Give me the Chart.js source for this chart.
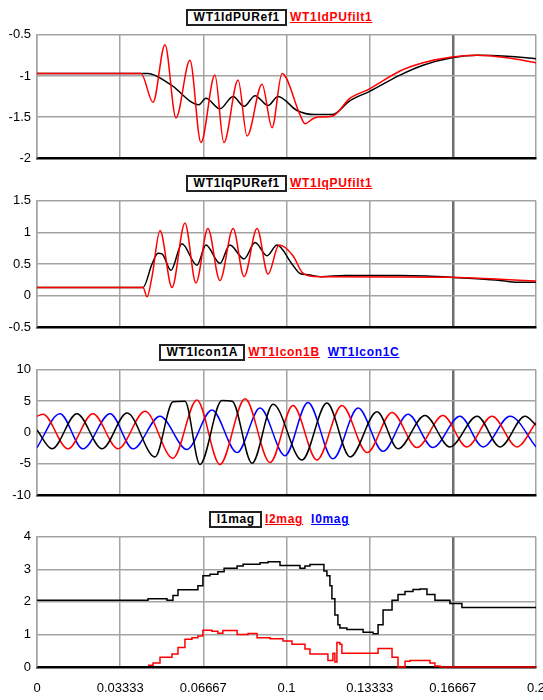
<!DOCTYPE html>
<html>
<head>
<meta charset="utf-8">
<script src="https://cdn.jsdelivr.net/npm/chart.js@4.4.0/dist/chart.umd.min.js"></script>
<style>
  html, body { margin: 0; padding: 0; background: #fff; }
  body { width: 543px; height: 700px; position: relative; overflow: hidden; }
  .panel { position: absolute; left: 0; width: 543px; }
  .legend {
    position: absolute; left: 0; width: 558px; height: 17px;
    display: flex; justify-content: center; align-items: center;
    font: bold 12px "Liberation Sans", Arial, sans-serif;
    letter-spacing: 0.7px; white-space: nowrap; line-height: 13px;
  }
  .legend .boxed { border: 2px solid #222; padding: 0 5px 0 6px; color: #000; margin-right: 3px; }
  .legend .red { color: #f00; text-decoration: underline; }
  .legend .blue { color: #00f; text-decoration: underline; margin-left: 8px; }
</style>
</head>
<body>

<div class="legend" style="top:9px"><span class="boxed">WT1IdPURef1</span><span class="red">WT1IdPUfilt1</span></div>
<div class="panel" style="top:21px;height:151px"><canvas id="c1"></canvas></div>

<div class="legend" style="top:175px"><span class="boxed">WT1IqPURef1</span><span class="red">WT1IqPUfilt1</span></div>
<div class="panel" style="top:187px;height:154px"><canvas id="c2"></canvas></div>

<div class="legend" style="top:344px"><span class="boxed">WT1Icon1A</span><span class="red">WT1Icon1B</span><span class="blue">WT1Icon1C</span></div>
<div class="panel" style="top:356px;height:153px"><canvas id="c3"></canvas></div>

<div class="legend" style="top:511px"><span class="boxed">I1mag</span><span class="red">I2mag</span><span class="blue">I0mag</span></div>
<div class="panel" style="top:523px;height:177px"><canvas id="c4"></canvas></div>

<script>
// time axis (s)
const xTickValues = [0, 0.033333, 0.066667, 0.1, 0.133333, 0.166667, 0.2];
const xTickLabels = ['0', '0.03333', '0.06667', '0.1', '0.13333', '0.16667', '0.2'];

// panel 1 - Id
const idTicks = [-2, -1.5, -1, -0.5];
const tIdRef = [0, 0.0445, 0.0533, 0.0649, 0.0677, 0.0733, 0.0786, 0.0830, 0.0874, 0.0926, 0.0966, 0.1042, 0.1114, 0.1182, 0.1255, 0.1331, 0.1455, 0.1547, 0.1663, 0.1764, 0.1884, 0.2];
const idRef = [-0.97, -0.97, -1.10, -1.35, -1.27, -1.40, -1.25, -1.37, -1.24, -1.36, -1.25, -1.42, -1.47, -1.47, -1.30, -1.19, -0.99, -0.87, -0.78, -0.75, -0.76, -0.79];
const tIdFilt = [0, 0.0417, 0.0465, 0.0513, 0.0557, 0.0613, 0.0657, 0.0713, 0.0749, 0.0806, 0.0842, 0.0902, 0.0942, 0.0982, 0.1054, 0.1074, 0.1106, 0.1126, 0.1182, 0.1255, 0.1331, 0.1455, 0.1547, 0.1663, 0.1764, 0.1884, 0.2];
const idFilt = [-0.97, -0.97, -1.32, -0.62, -1.51, -0.81, -1.81, -0.99, -1.81, -1.05, -1.73, -1.10, -1.63, -0.97, -1.47, -1.58, -1.52, -1.50, -1.49, -1.27, -1.16, -0.94, -0.84, -0.77, -0.75, -0.78, -0.84];

// panel 2 - Iq
const iqTicks = [-0.5, 0, 0.5, 1, 1.5];
const tIqRef = [0, 0.0425, 0.0461, 0.0485, 0.0501, 0.0537, 0.0581, 0.0641, 0.0677, 0.0733, 0.0773, 0.0830, 0.0874, 0.0922, 0.0962, 0.1022, 0.1054, 0.1086, 0.1138, 0.1235, 0.1455, 0.1563, 0.1655, 0.1747, 0.1856, 0.1924, 0.2];
const iqRef = [0.13, 0.13, 0.50, 0.67, 0.66, 0.40, 0.82, 0.48, 0.80, 0.51, 0.80, 0.58, 0.84, 0.63, 0.80, 0.50, 0.35, 0.33, 0.30, 0.32, 0.32, 0.31, 0.29, 0.27, 0.24, 0.21, 0.21];
const tIqFilt = [0, 0.0425, 0.0441, 0.0461, 0.0493, 0.0541, 0.0593, 0.0637, 0.0685, 0.0733, 0.0786, 0.0830, 0.0882, 0.0926, 0.0970, 0.1026, 0.1062, 0.1094, 0.1138, 0.1655, 0.1747, 0.1856, 0.2];
const iqFilt = [0.13, 0.13, -0.02, 0.30, 1.03, 0.13, 1.15, 0.20, 1.06, 0.24, 1.06, 0.30, 1.06, 0.34, 0.80, 0.63, 0.37, 0.31, 0.30, 0.29, 0.28, 0.26, 0.23];

// panel 3 - converter phase currents (peaks / troughs)
const iconTicks = [-10, -5, 0, 5, 10];
const tPhA = [0, 0.0060, 0.0160, 0.0261, 0.0361, 0.0473, 0.0545, 0.0593, 0.0653, 0.0741, 0.0782, 0.0862, 0.0946, 0.1062, 0.1162, 0.1255, 0.1363, 0.1447, 0.1555, 0.1655, 0.1764, 0.1856, 0.1956, 0.2];
const phA = [0.4, -2.6, 3.0, -2.6, 3.1, -3.9, 4.9, 5.0, -5.1, 5.1, 5.0, -4.9, 4.5, -4.4, 4.7, -3.9, 3.3, -2.6, 2.7, -2.3, 2.6, -2.3, 2.6, 1.2];
const tPhB = [0, 0.0024, 0.0124, 0.0224, 0.0325, 0.0433, 0.0545, 0.0641, 0.0733, 0.0834, 0.0934, 0.1026, 0.1122, 0.1222, 0.1323, 0.1423, 0.1523, 0.1627, 0.1723, 0.1824, 0.1924, 0.2];
const phB = [2.6, 2.9, -2.6, 3.0, -2.6, 3.4, -4.1, 5.2, -5.1, 5.4, -4.8, 4.3, -4.4, 4.3, -3.2, 3.2, -2.4, 2.7, -2.3, 2.6, -2.3, 1.6];
const tPhC = [0, 0.0092, 0.0184, 0.0293, 0.0385, 0.0493, 0.0601, 0.0701, 0.0802, 0.0894, 0.0994, 0.1086, 0.1186, 0.1287, 0.1387, 0.1487, 0.1587, 0.1695, 0.1788, 0.1896, 0.2];
const phC = [-2.4, 3.0, -2.6, 3.0, -2.6, 2.6, -2.7, 3.6, -3.2, 3.9, -3.7, 4.8, -4.2, 3.9, -3.0, 2.9, -2.4, 2.6, -2.3, 2.6, -2.3];

// panel 4 - sequence magnitudes (level start times)
const magTicks = [0, 1, 2, 3, 4];
const tI1 = [0, 0.0445, 0.0521, 0.0545, 0.0565, 0.0645, 0.0665, 0.0693, 0.0725, 0.0750, 0.0802, 0.0826, 0.0894, 0.0926, 0.0974, 0.1054, 0.1074, 0.1094, 0.1150, 0.1162, 0.1174, 0.1182, 0.1194, 0.1206, 0.1214, 0.1242, 0.1307, 0.1347, 0.1367, 0.1387, 0.1423, 0.1447, 0.1475, 0.1507, 0.1535, 0.1563, 0.1595, 0.1655, 0.1703, 0.2];
const i1 = [2.05, 2.1, 2.05, 2.2, 2.37, 2.5, 2.8, 2.85, 2.93, 3.03, 3.1, 3.16, 3.2, 3.23, 3.12, 3.03, 3.1, 3.15, 2.95, 2.8, 2.5, 2.1, 1.6, 1.3, 1.2, 1.15, 1.07, 1.02, 1.3, 1.75, 2.05, 2.23, 2.32, 2.38, 2.4, 2.23, 2.05, 1.95, 1.83, 1.83];
const tI2 = [0.0445, 0.0465, 0.0493, 0.0541, 0.0565, 0.0593, 0.0621, 0.0645, 0.0665, 0.0701, 0.0725, 0.0745, 0.0802, 0.0846, 0.0882, 0.0934, 0.0986, 0.1022, 0.1074, 0.1094, 0.1166, 0.1186, 0.1194, 0.1202, 0.1214, 0.1222, 0.1367, 0.1423, 0.1447, 0.1475, 0.1495, 0.1575, 0.1595, 0.1615, 0.2];
const i2 = [0.05, 0.12, 0.3, 0.4, 0.6, 0.85, 0.9, 0.95, 1.13, 1.1, 1.04, 1.12, 1.0, 1.03, 0.9, 0.87, 0.8, 0.7, 0.55, 0.4, 0.2, 0.42, 0.15, 0.75, 0.7, 0.42, 0.57, 0.3, 0, 0.18, 0.2, 0.12, 0.03, 0, 0];

const BLACK = '#000000';
const RED = '#ff0000';
const BLUE = '#0000ff';
const GRID = '#a3a3a3';
const tickFont = { family: '"Liberation Sans", Arial, sans-serif', size: 13 };

function series(t, v) {
    return t.map((x, i) => ({ x: x, y: v[i] }));
}

function smoothLine(t, v, color, order) {
    return {
        data: series(t, v),
        borderColor: color,
        borderWidth: 1.5,
        cubicInterpolationMode: 'monotone',
        order: order
    };
}

function stepLine(t, v, color, order) {
    return {
        data: series(t, v),
        borderColor: color,
        borderWidth: 1.5,
        stepped: true,
        clip: 3,
        order: order
    };
}

function makeChart(id, yTicks, datasets, showXLabels) {
    return new Chart(document.getElementById(id), {
        type: 'line',
        data: { datasets: datasets },
        options: {
            responsive: true,
            maintainAspectRatio: false,
            animation: false,
            events: [],
            layout: { padding: { top: 10, right: 7, left: 0, bottom: 0 } },
            plugins: { legend: { display: false }, tooltip: { enabled: false } },
            elements: { point: { radius: 0 } },
            scales: {
                x: {
                    type: 'linear',
                    min: 0,
                    max: 0.2,
                    afterBuildTicks: s => { s.ticks = xTickValues.map(v => ({ value: v })); },
                    afterFit: s => {
                        s.height = showXLabels ? 33 : 10;
                        s.paddingLeft = 0;
                        s.paddingRight = 0;
                    },
                    grid: {
                        color: c => c.index === 5 ? '#6e6e6e' : GRID,
                        lineWidth: c => c.index === 5 ? 2.5 : 1.5,
                        drawTicks: false
                    },
                    border: { color: BLACK, width: 2.5 },
                    ticks: {
                        display: showXLabels,
                        autoSkip: false,
                        maxRotation: 0,
                        padding: 14,
                        color: BLACK,
                        font: tickFont,
                        callback: (v, i) => xTickLabels[i]
                    }
                },
                y: {
                    type: 'linear',
                    min: yTicks[0],
                    max: yTicks[yTicks.length - 1],
                    afterBuildTicks: s => { s.ticks = yTicks.map(v => ({ value: v })); },
                    afterFit: s => { s.width = 37; },
                    grid: { color: GRID, lineWidth: 1.5, drawTicks: false },
                    border: { color: GRID, width: 1.5 },
                    ticks: {
                        padding: 6,
                        color: BLACK,
                        font: tickFont,
                        callback: (v, i) => String(yTicks[i])
                    }
                }
            }
        }
    });
}

makeChart('c1', idTicks, [
    smoothLine(tIdRef, idRef, BLACK, 2),
    smoothLine(tIdFilt, idFilt, RED, 1)
], false);

makeChart('c2', iqTicks, [
    smoothLine(tIqRef, iqRef, BLACK, 2),
    smoothLine(tIqFilt, iqFilt, RED, 1)
], false);

makeChart('c3', iconTicks, [
    smoothLine(tPhA, phA, BLACK, 1),
    smoothLine(tPhB, phB, RED, 2),
    smoothLine(tPhC, phC, BLUE, 3)
], false);

makeChart('c4', magTicks, [
    stepLine(tI1, i1, BLACK, 1),
    stepLine(tI2, i2, RED, 2)
], true);
</script>
</body>
</html>
